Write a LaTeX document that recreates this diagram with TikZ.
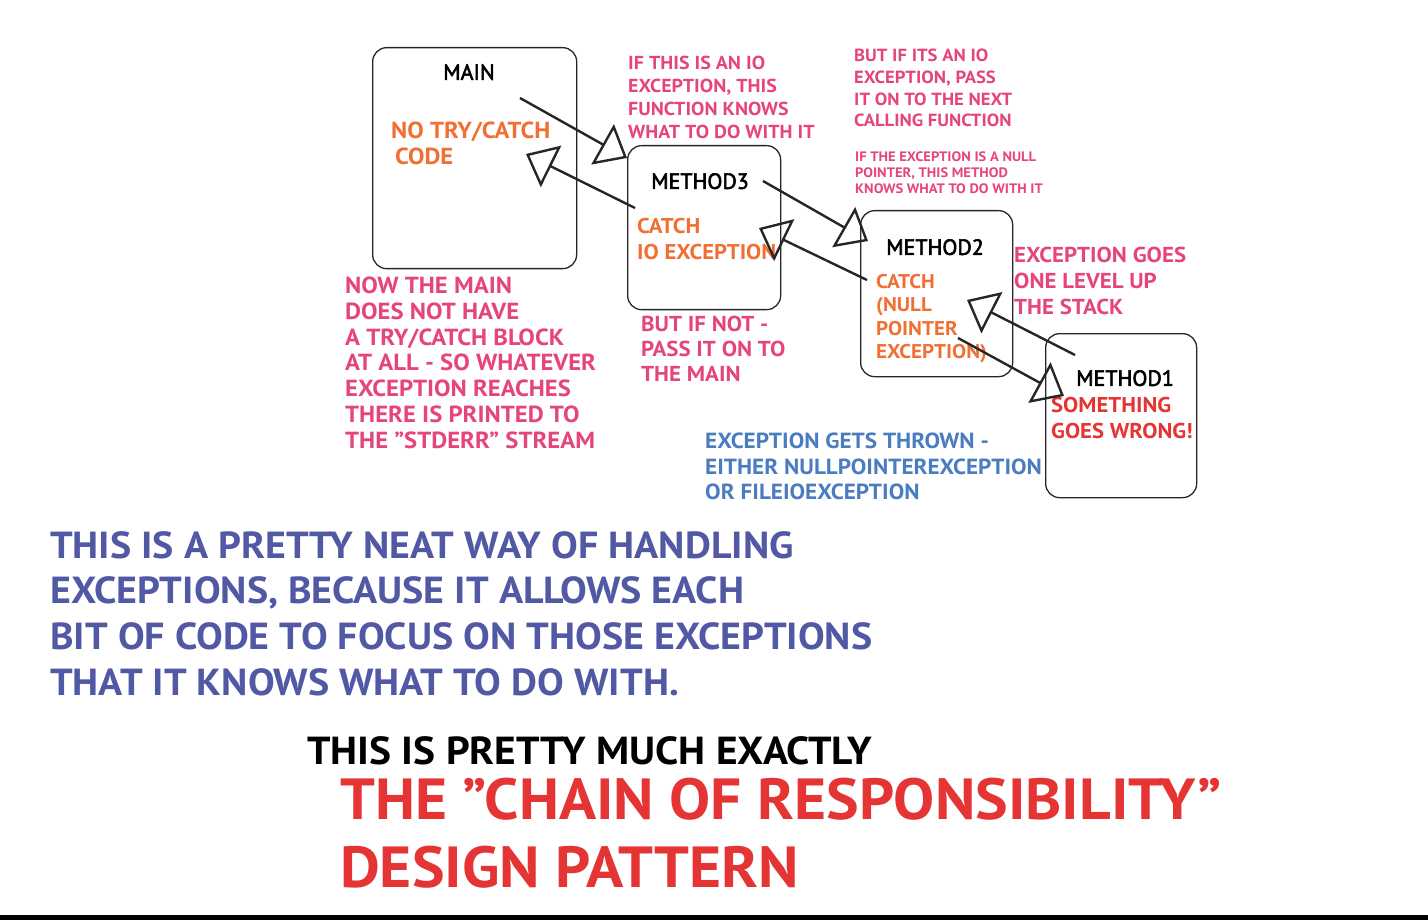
\documentclass[tikz,border=0pt]{standalone}
\usepackage{fontspec}
\setmainfont{PT Sans}[BoldFeatures={FakeStretch=1.06}]
\newfontfamily\titlefont{PT Sans}[FakeBold=2.5]
\usetikzlibrary{arrows.meta}
\definecolor{cpink}{HTML}{E5457A}
\definecolor{corange}{HTML}{F07034}
\definecolor{cblue}{HTML}{4A7CC0}
\definecolor{cpurple}{HTML}{5158A4}
\definecolor{cred}{HTML}{E53434}
\newcommand\fsz[2]{\fontsize{#1}{#2}\selectfont}
\tikzset{
  box/.style={draw=black!85, rounded corners=14pt, line width=1.3pt, anchor=north west, inner sep=0},
  txt/.style={inner sep=0, anchor=north west, align=left},
  title/.style={inner sep=0, anchor=north, font=\titlefont\fsz{22}{26}},
  arr/.style={line width=2.4pt, draw=black!85, -{Triangle[open, length=28pt, width=46pt, line width=2.4pt]}},
}
\begin{document}
\begin{tikzpicture}[x=1pt,y=-1pt]
\useasboundingbox (0,0) rectangle (1428,920);
\fill[black] (0,915) rectangle (1428,920);
% boxes
\node[box, minimum width=204pt, minimum height=221pt] (main) at (372,47) {};
\node[box, minimum width=153pt, minimum height=164pt] (m3) at (627,145) {};
\node[box, minimum width=152pt, minimum height=166pt] (m2) at (860,210) {};
\node[box, minimum width=151pt, minimum height=164pt] (m1) at (1045,333) {};
% titles
\node[title] (tmain) at (469,64) {MAIN};
\node[title] (tm3) at (700,173) {METHOD3};
\node[title] (tm2) at (935,239) {METHOD2};
\node[title] (tm1) at (1125,370) {METHOD1};
% box contents
\node[txt, text=corange, font=\bfseries\fsz{23.2}{26}] (cmain) at (391,122) {NO TRY/CATCH\\\,CODE};
\node[txt, text=corange, font=\bfseries\fsz{21.4}{26}] (cm3) at (637,218) {CATCH\\IO EXCEPTION};
\node[txt, text=corange, font=\bfseries\fsz{19.9}{23.5}] (cm2) at (876,274) {CATCH\\(NULL\\POINTER\\EXCEPTION)};
\node[txt, text=cred, font=\bfseries\fsz{21.4}{26}] (cm1) at (1051,397) {SOMETHING\\GOES WRONG!};
% annotations
\node[txt, text=cpink, font=\bfseries\fsz{18.8}{23}] (n1) at (628,56) {IF THIS IS AN IO\\EXCEPTION, THIS\\FUNCTION KNOWS\\WHAT TO DO WITH IT};
\node[txt, text=cpink, font=\bfseries\fsz{17.6}{21.7}] (n2) at (854,49) {BUT IF ITS AN IO\\EXCEPTION, PASS\\IT ON TO THE NEXT\\CALLING FUNCTION};
\node[txt, text=cpink, font=\bfseries\fsz{13.7}{16}] (n3) at (855,152) {IF THE EXCEPTION IS A NULL\\POINTER, THIS METHOD\\KNOWS WHAT TO DO WITH IT};
\node[txt, text=cpink, font=\bfseries\fsz{21.6}{26}] (n4) at (1014,247) {EXCEPTION GOES\\ONE LEVEL UP\\THE STACK};
\node[txt, text=cpink, font=\bfseries\fsz{23.3}{25.7}] (n5) at (345,277) {NOW THE MAIN\\DOES NOT HAVE\\A TRY/CATCH BLOCK\\AT ALL - SO WHATEVER\\EXCEPTION REACHES\\THERE IS PRINTED TO\\THE "STDERR" STREAM};
\node[txt, text=cpink, font=\bfseries\fsz{21.6}{25}] (n6) at (641,316) {BUT IF NOT -\\PASS IT ON TO\\THE MAIN};
\node[txt, text=cblue, font=\bfseries\fsz{21.9}{25.5}] (n7) at (705,433) {EXCEPTION GETS THROWN -\\EITHER NULLPOINTEREXCEPTION\\OR FILEIOEXCEPTION};
\node[txt, text=cpurple, font=\bfseries\fsz{37.7}{45.7}] (n8) at (50,531) {THIS IS A PRETTY NEAT WAY OF HANDLING\\EXCEPTIONS, BECAUSE IT ALLOWS EACH\\BIT OF CODE TO FOCUS ON THOSE EXCEPTIONS\\THAT IT KNOWS WHAT TO DO WITH.};
\node[txt, text=black, font=\bfseries\fsz{39.1}{40}] (n9) at (307,736) {THIS IS PRETTY MUCH EXACTLY};
\node[txt, text=cred, font=\bfseries\fsz{58}{68}] (n10) at (340,778) {THE "CHAIN OF RESPONSIBILITY"\\DESIGN PATTERN};
% arrows
\coordinate (a1s) at (520,98);  \coordinate (a1e) at (627,158);
\coordinate (a2s) at (635,208); \coordinate (a2e) at (526,154);
\coordinate (a3s) at (763,181); \coordinate (a3e) at (868,241);
\coordinate (a4s) at (867,280); \coordinate (a4e) at (759,228);
\coordinate (a5s) at (958,338); \coordinate (a5e) at (1064,396);
\coordinate (a6s) at (1075,355); \coordinate (a6e) at (967,300);
\draw[arr] (a1s) -- (a1e);
\draw[arr] (a2s) -- (a2e);
\draw[arr] (a3s) -- (a3e);
\draw[arr] (a4s) -- (a4e);
\draw[arr] (a5s) -- (a5e);
\draw[arr] (a6s) -- (a6e);
\end{tikzpicture}
\end{document}
